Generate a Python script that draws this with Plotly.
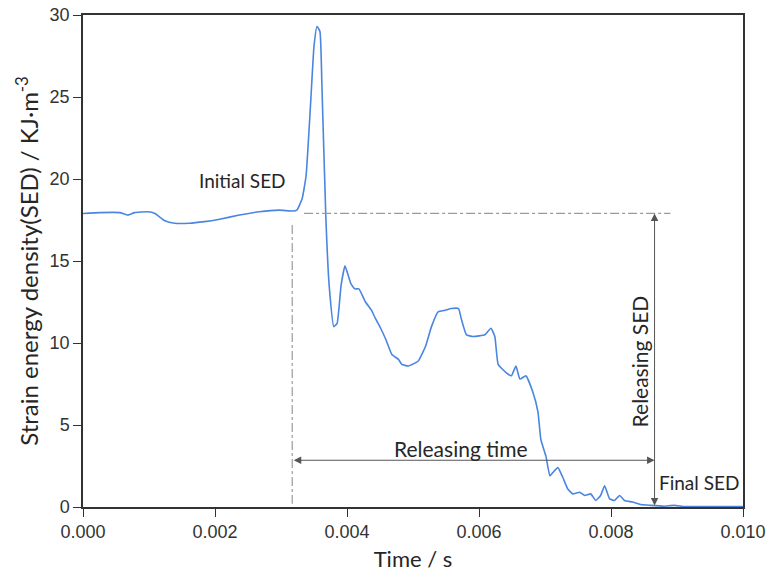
import plotly.graph_objects as go

time_s = [0.0, 0.000256, 0.000558, 0.00068, 0.00078, 0.00098, 0.00109, 0.00124, 0.00139,
          0.00161, 0.00184, 0.00207, 0.00237, 0.00267, 0.00297, 0.00317, 0.00324, 0.00332,
          0.00338, 0.00345, 0.00350, 0.003545, 0.00359, 0.00362, 0.00368, 0.00373, 0.00380,
          0.00385, 0.00391, 0.00397, 0.00406, 0.00412, 0.00418, 0.00428, 0.00437, 0.00443,
          0.00451, 0.00459, 0.00468, 0.00478, 0.00483, 0.00493, 0.00508, 0.00519, 0.00528,
          0.00538, 0.00549, 0.00558, 0.00569, 0.00573, 0.00581, 0.00591, 0.00609, 0.00618,
          0.00624, 0.00629, 0.00641, 0.00649, 0.00656, 0.00662, 0.00671, 0.006817, 0.006893,
          0.006938, 0.007014, 0.007074, 0.007119, 0.007195, 0.00727, 0.007345, 0.007421,
          0.007526, 0.007602, 0.007692, 0.007768, 0.007843, 0.007903, 0.007979, 0.008054,
          0.00813, 0.008205, 0.008326, 0.008446, 0.008597, 0.0088, 0.008959, 0.00912, 0.0095, 0.010]
sed = [17.9, 17.95, 17.95, 17.8, 17.95, 18.0, 17.9, 17.45, 17.3,
       17.3, 17.4, 17.55, 17.8, 18.0, 18.1, 18.05, 18.1, 18.8,
       20.2, 24.7, 28.1, 29.3, 29.0, 25.7, 17.6, 13.5, 11.0,
       11.2, 13.5, 14.7, 13.6, 13.3, 13.3, 12.5, 12.0, 11.5,
       10.9, 10.2, 9.3, 9.0, 8.7, 8.6, 8.9, 9.8, 11.0,
       11.9, 12.0, 12.1, 12.1, 11.5, 10.5, 10.4, 10.5, 10.9,
       10.4, 8.7, 8.2, 8.0, 8.6, 7.8, 8.0, 7.0, 5.8,
       4.1, 3.1, 1.9, 2.1, 2.4, 1.8, 1.1, 0.8,
       0.9, 0.7, 0.8, 0.4, 0.7, 1.3, 0.5, 0.4,
       0.7, 0.4, 0.3, 0.15, 0.1, 0.05, 0.1, 0.03, 0.02, 0.02]

initial_sed = 17.9
release_start = 0.00317
release_end = 0.00866

xticks = [0.0, 0.002, 0.004, 0.006, 0.008, 0.010]
xtick_labels = ["0.000", "0.002", "0.004", "0.006", "0.008", "0.010"]
yticks = [0, 5, 10, 15, 20, 25, 30]

txt_font = "Lato, 'Open Sans', sans-serif"
gray = "#555555"
txt_col = "#262626"

fig = go.Figure()
fig.add_trace(go.Scatter(x=time_s, y=sed, mode="lines",
                         line=dict(color="#4a86e0", width=1.6, shape="spline", smoothing=0.4),
                         showlegend=False, hoverinfo="skip"))
# reference dash-dot lines
fig.add_trace(go.Scatter(x=[0.00335, 0.0089], y=[initial_sed, initial_sed], mode="lines",
                         line=dict(color="#9a9a9a", width=1.2, dash="dashdot"),
                         showlegend=False, hoverinfo="skip"))
fig.add_trace(go.Scatter(x=[release_start, release_start], y=[17.2, 0.2], mode="lines",
                         line=dict(color="#9a9a9a", width=1.2, dash="dashdot"),
                         showlegend=False, hoverinfo="skip"))

annos = []
# Releasing time double arrow
annos.append(dict(x=release_end, y=2.85, ax=release_start, ay=2.85, xref="x", yref="y",
                  axref="x", ayref="y", showarrow=True, arrowhead=2, startarrowhead=2,
                  arrowside="end+start", arrowsize=1.5, startarrowsize=1.5,
                  arrowwidth=1, arrowcolor=gray, text=""))
# Releasing SED double arrow
annos.append(dict(x=release_end, y=initial_sed, ax=release_end, ay=0.0, xref="x", yref="y",
                  axref="x", ayref="y", showarrow=True, arrowhead=2, startarrowhead=2,
                  arrowside="end+start", arrowsize=1.5, startarrowsize=1.5,
                  arrowwidth=1, arrowcolor=gray, text=""))
annos.append(dict(x=0.00242, y=19.9, xref="x", yref="y", text="Initial SED", showarrow=False,
                  font=dict(family=txt_font, size=19, color=txt_col)))
annos.append(dict(x=0.00573, y=3.55, xref="x", yref="y", text="Releasing time", showarrow=False,
                  font=dict(family=txt_font, size=21, color=txt_col)))
annos.append(dict(x=0.00843, y=8.9, xref="x", yref="y", text="Releasing SED", showarrow=False,
                  textangle=-90, font=dict(family=txt_font, size=21, color=txt_col)))
annos.append(dict(x=0.00869, y=1.5, xref="x", yref="y", text="Final SED", showarrow=False,
                  xanchor="left", font=dict(family=txt_font, size=19, color=txt_col)))

axis_common = dict(showline=True, linecolor="#333333", linewidth=1.5, mirror=True,
                   ticks="outside", ticklen=8, tickwidth=1.2, tickcolor="#333333",
                   showgrid=False, zeroline=False, automargin=False,
                   tickfont=dict(family="Liberation Sans, Arial, sans-serif", size=18, color="#333333"))

fig.update_layout(
    width=769, height=578,
    margin=dict(l=83, r=26, t=15, b=71),
    paper_bgcolor="white", plot_bgcolor="white",
    annotations=annos,
    xaxis=dict(range=[0, 0.010], tickvals=xticks, ticktext=xtick_labels,
               title=dict(text="Time / s", font=dict(family=txt_font, size=22, color=txt_col), standoff=10),
               **axis_common),
    yaxis=dict(range=[0, 30], tickvals=yticks,
               title=dict(text="Strain energy density(SED) / KJ·m<sup>-3</sup>",
                          font=dict(family=txt_font, size=24, color=txt_col), standoff=4),
               **axis_common),
)

fig.write_html("out.html")
